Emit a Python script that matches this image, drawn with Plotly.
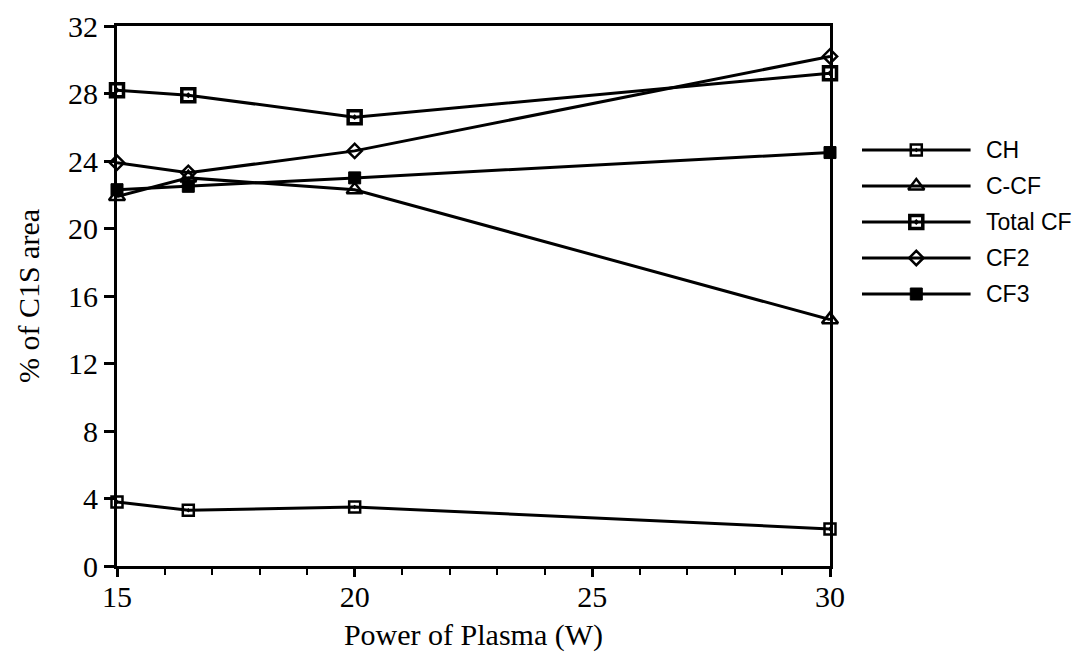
import plotly.graph_objects as go

power = [15, 16.5, 20, 30]
series_names = ["CH", "C-CF", "Total CF", "CF2", "CF3"]
ch = [3.8, 3.3, 3.5, 2.2]
c_cf = [21.9, 23.0, 22.3, 14.6]
total_cf = [28.2, 27.9, 26.6, 29.2]
cf2 = [23.9, 23.3, 24.6, 30.2]
cf3 = [22.3, 22.5, 23.0, 24.5]

x_ticks = [15, 20, 25, 30]
y_ticks = [0, 4, 8, 12, 16, 20, 24, 28, 32]

values = [ch, c_cf, total_cf, cf2, cf3]
markers = [
    dict(symbol="square-open-dot", size=11, color="black", line=dict(width=2.5, color="black")),
    dict(symbol="triangle-up-open", size=14, color="black", line=dict(width=2.5, color="black")),
    dict(symbol="square-open-dot", size=13, color="black", line=dict(width=3.5, color="black")),
    dict(symbol="diamond-open", size=11, color="black", line=dict(width=2.5, color="black")),
    dict(symbol="square", size=12, color="black", line=dict(width=1, color="black")),
]

fig = go.Figure()
for name, vals, mk in zip(series_names, values, markers):
    fig.add_trace(go.Scatter(
        x=power, y=vals, name=name, mode="lines+markers",
        line=dict(color="black", width=3), marker=mk,
        cliponaxis=False, showlegend=False,
    ))

# legend drawn on its own hidden axis to the right of the plot
n = len(series_names)
for i, (name, mk) in enumerate(zip(series_names, markers)):
    fig.add_trace(go.Scatter(x=[0, 1], y=[i, i], mode="lines", line=dict(color="black", width=3),
                             xaxis="x2", yaxis="y2", showlegend=False, hoverinfo="skip"))
    fig.add_trace(go.Scatter(x=[0.5], y=[i], mode="markers", marker=mk,
                             xaxis="x2", yaxis="y2", showlegend=False, hoverinfo="skip"))
    fig.add_annotation(x=1.12, y=i, xref="x2", yref="y2", text=name, showarrow=False,
                       xanchor="left", font=dict(family="Liberation Sans, Arial", size=23, color="black"))

W, H = 1092, 661
L, R, T, B = 109, 10, 18, 103
pw, ph = W - L - R, H - T - B
x_right = 822
leg_left, leg_top, leg_bottom = 854, 124, 304

serif = "Liberation Serif, Times New Roman, serif"
fig.update_layout(
    width=W, height=H,
    paper_bgcolor="white", plot_bgcolor="white",
    margin=dict(l=L, r=R, t=T, b=B),
    font=dict(family=serif, size=30, color="black"),
    xaxis=dict(
        domain=[0, (x_right - L) / pw], automargin=False,
        range=[15, 30], tickvals=x_ticks, ticks="outside", ticklen=8, tickwidth=2.5,
        tickcolor="black", showline=True, linewidth=3, linecolor="black", mirror=True,
        showgrid=False, zeroline=False, ticklabelstandoff=-6,
        minor=dict(dtick=1, ticks="outside", ticklen=6, tickwidth=2, tickcolor="black", showgrid=False),
        title=dict(text="Power of Plasma (W)", font=dict(family=serif, size=30), standoff=12),
        tickfont=dict(family=serif, size=30),
    ),
    yaxis=dict(
        range=[0, 32], tickvals=y_ticks, ticks="outside", ticklen=10, tickwidth=2.5, automargin=False,
        tickcolor="black", showline=True, linewidth=3, linecolor="black", mirror=True,
        showgrid=False, zeroline=False,
        title=dict(text="% of C1S area", font=dict(family=serif, size=30), standoff=20),
        tickfont=dict(family=serif, size=30),
    ),
    xaxis2=dict(domain=[(leg_left - L) / pw, 1.0], range=[0, 2.1], visible=False, anchor="y2"),
    yaxis2=dict(domain=[(H - B - leg_bottom) / ph, (H - B - leg_top) / ph], range=[n - 0.5, -0.5],
                visible=False, anchor="x2"),
    showlegend=False,
)

fig.write_html("out.html")
